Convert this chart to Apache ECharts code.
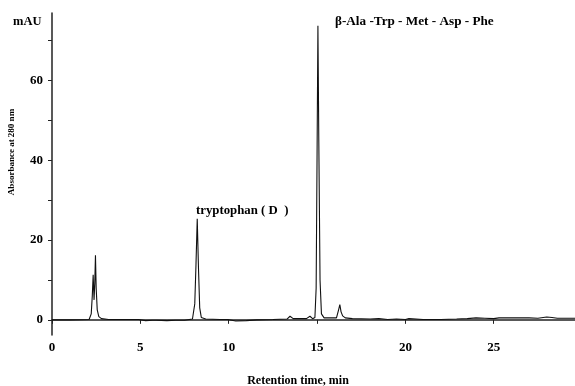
<!DOCTYPE html>
<html>
<head>
<meta charset="utf-8">
<script src="https://cdn.jsdelivr.net/npm/echarts@6/dist/echarts.min.js"></script>
<style>
  html, body { margin: 0; padding: 0; background: #fff; }
  #chart { width: 575px; height: 386px; }
</style>
</head>
<body>
<div id="chart"></div>
<script>
// chromatogram trace
const retentionTime = [
  0, 1.0, 2.1, 2.22, 2.28, 2.33, 2.38, 2.42, 2.46, 2.5, 2.56, 2.65, 2.8, 3.2, 4.0, 4.9,
  5.0, 5.3, 5.7, 5.78, 5.9, 6.5, 7.0, 7.5, 7.95, 8.08, 8.15, 8.22, 8.29, 8.36, 8.45, 8.7,
  9.5, 9.95, 10.05, 10.4, 11, 11.6, 12.5, 13.3, 13.47, 13.65, 14.4, 14.6, 14.75, 14.88,
  14.95, 15.0, 15.05, 15.1, 15.17, 15.25, 15.4, 16.1, 16.22, 16.29, 16.36, 16.45, 16.6,
  17, 18, 18.5, 19, 19.5, 20, 20.2, 21, 22, 22.9, 23, 23.5, 24, 24.5, 25, 25.3, 26, 27,
  27.5, 28, 28.3, 28.6, 29.6
];
const absorbance = [
  0, 0, 0.1, 1.5, 6, 11.3, 5, 9, 16.2, 8, 2.5, 0.8, 0.3, 0.1, 0.1, 0.1,
  -0.3, -0.2, -0.1, 0.2, -0.1, -0.2, -0.1, -0.1, 0.2, 4, 14, 25.3, 13, 3, 0.6, 0.2,
  0.1, 0.1, -0.4, -0.3, -0.2, 0, 0.1, 0.2, 0.9, 0.3, 0.3, 0.9, 0.3, 0.6,
  8, 40, 73.7, 45, 10, 1.5, 0.5, 0.5, 2.5, 3.8, 2, 1.0, 0.5,
  0.3, 0.2, 0.3, 0.1, 0.2, 0.1, 0.3, 0.1, 0.1, 0.2, 0.4, 0.3, 0.5, 0.4, 0.3, 0.5, 0.5, 0.5,
  0.4, 0.7, 0.6, 0.4, 0.4
];
const xTicks = [0, 5, 10, 15, 20, 25];
const yTicks = [0, 10, 20, 30, 40, 50, 60, 70];
const yLabels = [0, 20, 40, 60];

const font = "'Liberation Serif', 'Times New Roman', serif";
const axisColor = "#222";

const chart = echarts.init(document.getElementById("chart"), null, { renderer: "canvas" });

chart.setOption({
  animation: false,
  backgroundColor: "#fff",
  grid: { left: 52, right: 0, top: 13, bottom: 51, containLabel: false, outerBoundsMode: "none" },
  xAxis: {
    type: "value",
    min: 0,
    max: 29.6,
    name: "Retention time, min",
    nameLocation: "middle",
    nameGap: 40,
    nameTextStyle: { fontFamily: font, fontWeight: "bold", fontSize: 12, color: "#000", padding: [0, 31, 0, 0] },
    axisLine: { lineStyle: { color: axisColor, width: 1.5 } },
    axisTick: { customValues: xTicks, length: 4, lineStyle: { color: axisColor } },
    axisLabel: { customValues: xTicks, margin: 6, fontFamily: font, fontWeight: "bold", fontSize: 13, color: "#000" },
    splitLine: { show: false }
  },
  yAxis: {
    type: "value",
    min: -3.8,
    max: 76.9,
    name: "Absorbance at 280 nm",
    nameLocation: "middle",
    nameGap: 36,
    nameTextStyle: { fontFamily: font, fontWeight: "bold", fontSize: 9, color: "#000", padding: [0, 0, 0, 44] },
    axisLine: { show: true, lineStyle: { color: axisColor, width: 1.5 } },
    axisTick: { customValues: yTicks, length: 4, lineStyle: { color: axisColor } },
    axisLabel: { customValues: yLabels, margin: 9, fontFamily: font, fontWeight: "bold", fontSize: 13, color: "#000" },
    splitLine: { show: false }
  },
  series: [{
    type: "line",
    data: retentionTime.map((t, i) => [t, absorbance[i]]),
    showSymbol: false,
    lineStyle: { color: "#111", width: 1.1 }
  }],
  graphic: [
    { type: "text", left: 13, top: 15, style: { text: "mAU", font: "bold 12.5px " + font, fill: "#000" } },
    { type: "text", left: 335, top: 15, style: { text: "β-Ala -Trp - Met - Asp - Phe", font: "bold 13.2px " + font, fill: "#000" } },
    { type: "text", left: 196, top: 204, style: { text: "tryptophan ( D  )", font: "bold 12.8px " + font, fill: "#000" } }
  ]
});
</script>
</body>
</html>
